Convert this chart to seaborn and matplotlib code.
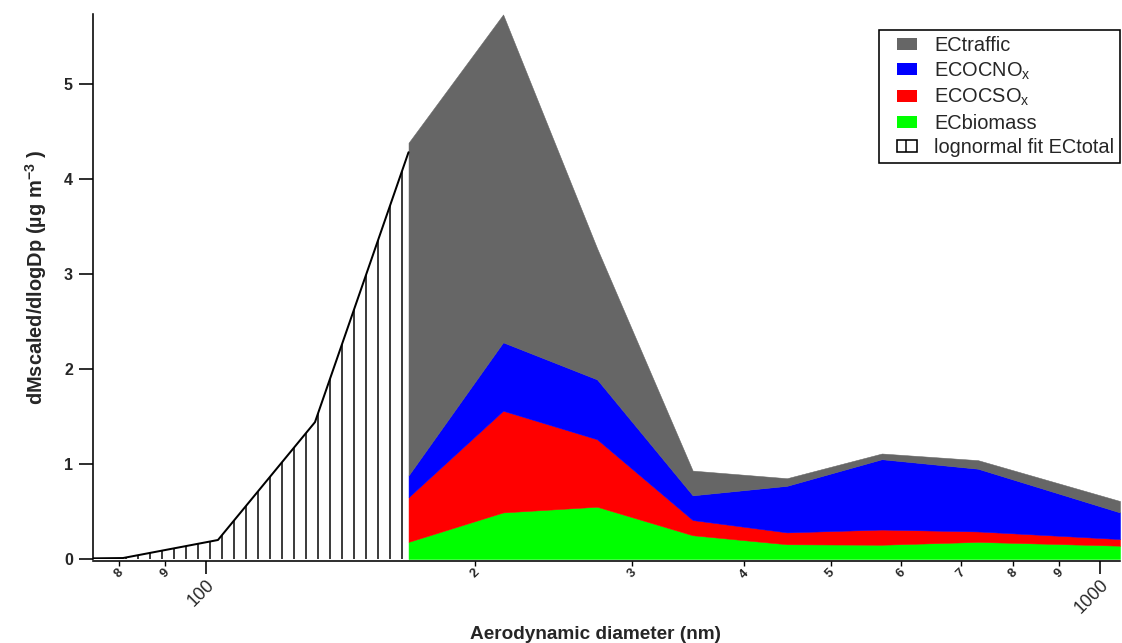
import numpy as np
import pandas as pd
import matplotlib
matplotlib.use("Agg")
import matplotlib.pyplot as plt
import matplotlib.patches as mpatches
from matplotlib.legend_handler import HandlerPatch
from matplotlib.ticker import FixedLocator, FixedFormatter
import seaborn as sns

# Impactor size bins (aerodynamic diameter, nm) and EC mass per source
diameter_nm = [168.6, 215.1, 274.0, 350.5, 446.9, 570.6, 730.9, 1053.7]
ec_biomass = [0.18, 0.49, 0.55, 0.25, 0.155, 0.15, 0.18, 0.14]
ecoc_sox = [0.47, 1.07, 0.71, 0.16, 0.125, 0.16, 0.11, 0.07]
ecoc_nox = [0.23, 0.72, 0.63, 0.26, 0.49, 0.74, 0.66, 0.28]
ec_traffic = [3.50, 3.45, 1.38, 0.26, 0.08, 0.06, 0.09, 0.12]

# Lognormal fit of total EC below the first impactor bin
fit_diameter_nm = [63.3, 80.8, 103.2, 132.5, 168.6]
fit_ec_total = [0.0, 0.01, 0.20, 1.44, 4.28]

major_ticks = [100, 1000]
major_labels = ["100", "1000"]
minor_ticks = [80, 90, 200, 300, 400, 500, 600, 700, 800, 900]
minor_labels = ["8", "9", "2", "3", "4", "5", "6", "7", "8", "9"]

y_ticks = [0, 1, 2, 3, 4, 5]

sns.set_theme(style="ticks")
plt.rcParams["font.family"] = ["Liberation Sans", "DejaVu Sans"]
plt.rcParams["mathtext.fontset"] = "custom"
plt.rcParams["hatch.linewidth"] = 1.5
plt.rcParams["axes.linewidth"] = 1.6

W, H, DPI = 1122, 643, 72
fig = plt.figure(figsize=(W / DPI, H / DPI), dpi=DPI)
fig.patch.set_facecolor("white")
ax = fig.add_axes([93 / W, 84 / H, (1120 - 93) / W, (629.5 - 84) / H])
ax.set_facecolor("white")

# stacked source contributions
layers = [
    ("ECbiomass", ec_biomass, "#00FF00"),
    ("ECOCSO$\\mathregular{_x}$", ecoc_sox, "#FF0000"),
    ("ECOCNO$\\mathregular{_x}$", ecoc_nox, "#0000FF"),
    ("ECtraffic", ec_traffic, "#666666"),
]
x = np.array(diameter_nm)
base = np.zeros_like(x)
handles = {}
for name, vals, col in layers:
    top = base + np.array(vals)
    ax.fill_between(x, base, top, facecolor=col, edgecolor=col, linewidth=0.5, zorder=2)
    handles[name] = mpatches.Patch(facecolor=col, edgecolor="none", label=name)
    base = top

# hatched lognormal fit
fit = pd.DataFrame({"d": fit_diameter_nm, "m": fit_ec_total})
ax.fill_between(fit["d"], 0, fit["m"], facecolor="white", edgecolor="black",
                hatch="|", linewidth=0, zorder=1)
sns.lineplot(data=fit, x="d", y="m", color="black", linewidth=2.0, ax=ax,
             legend=False, zorder=3)

ax.set_xscale("log")
ax.set_xlim(74.8, 1053.7)
ax.set_ylim(0, 5.74)

ax.xaxis.set_major_locator(FixedLocator(major_ticks))
ax.xaxis.set_major_formatter(FixedFormatter(major_labels))
ax.xaxis.set_minor_locator(FixedLocator(minor_ticks))
ax.xaxis.set_minor_formatter(FixedFormatter(minor_labels))
ax.yaxis.set_major_locator(FixedLocator(y_ticks))

ax.tick_params(axis="x", which="major", direction="out", length=13, width=1.6,
               pad=2, color="black", labelsize=18, labelrotation=45)
ax.tick_params(axis="x", which="minor", direction="out", length=5, width=1.4,
               pad=1, color="black", labelsize=13, labelrotation=45)
ax.tick_params(axis="y", which="major", direction="out", length=14, width=1.6,
               pad=6, color="black", labelsize=16)
ax.tick_params(axis="y", which="minor", left=False)

for side in ["top", "right"]:
    ax.spines[side].set_visible(False)
for side in ["left", "bottom"]:
    ax.spines[side].set_color("black")
ax.spines["bottom"].set_position(("outward", 2))

ax.set_xlabel("Aerodynamic diameter (nm)", fontsize=19, fontweight="bold")
ax.set_ylabel("dMscaled/dlogDp (µg m$\\mathregular{^{-3}}$ )", fontsize=20,
              fontweight="bold")
ax.xaxis.set_label_coords((596 - 93) / 1027, (559 - 626) / 545.5)
ax.yaxis.set_label_coords((49 - 93) / 1027, (559 - 278) / 545.5)


def right_box(legend, orig_handle, xdescent, ydescent, width, height, fontsize):
    # legend key drawn as a 20x12 box flush with the right of the handle slot
    return mpatches.Rectangle((width - 20 - xdescent, -ydescent + (height - 12) / 2),
                              20, 12)


fit_handle = mpatches.Patch(facecolor="white", edgecolor="black", hatch="|",
                            linewidth=1.6, label="lognormal fit ECtotal")
order = ["ECtraffic", "ECOCNO$\\mathregular{_x}$", "ECOCSO$\\mathregular{_x}$", "ECbiomass"]
all_handles = [handles[k] for k in order] + [fit_handle]
leg = ax.legend(handles=all_handles,
                handler_map={h: HandlerPatch(patch_func=right_box) for h in all_handles},
                loc="upper right", bbox_to_anchor=(1120 / W, (H - 30) / H),
                bbox_transform=fig.transFigure, borderaxespad=0,
                fontsize=20, frameon=True, fancybox=False, shadow=False,
                handlelength=1.6, handleheight=0.6, handletextpad=0.85,
                labelspacing=0.27, borderpad=0.3)
leg.get_frame().set_edgecolor("black")
leg.get_frame().set_linewidth(1.6)
leg.get_frame().set_alpha(1)
leg.set_zorder(5)

# lay out the ticks once, then fix label alignment and weight
fig.canvas.draw()
for lab in ax.xaxis.get_majorticklabels():
    lab.set_ha("right")
    lab.set_va("top")
    lab.set_rotation_mode("anchor")
for lab in ax.xaxis.get_minorticklabels():
    lab.set_ha("center")
    lab.set_va("top")
    lab.set_fontweight("bold")
for lab in ax.yaxis.get_majorticklabels():
    lab.set_fontweight("bold")

fig.savefig("out.png", dpi=DPI, facecolor="white")
